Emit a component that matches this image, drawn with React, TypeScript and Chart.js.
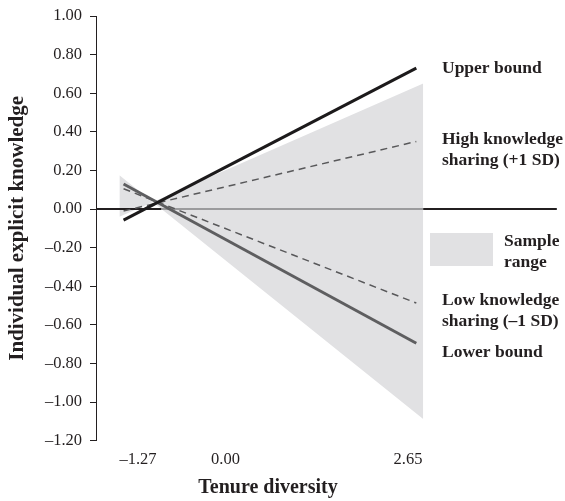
import React, { useEffect, useRef } from "react";
import { Chart, registerables } from "chart.js";

Chart.register(...registerables);

// ---- data ----
const xTickValues = [-1.27, 0.0, 2.65];
const yMin = -1.2;
const yMax = 1.0;
const yStep = 0.2;

const lineX = [-1.48, 2.77];
const upperBound = [-0.057, 0.73];
const highSharing = [-0.01, 0.35];
const lowSharing = [0.105, -0.487];
const lowerBound = [0.13, -0.695];

const sampleX = [-1.54, 2.87];
const sampleEdgeA = [0.175, -1.087];
const sampleEdgeB = [-0.04, 0.65];

const labelUpper = ["Upper bound"];
const labelHigh = ["High knowledge", "sharing (+1 SD)"];
const labelSample = ["Sample", "range"];
const labelLow = ["Low knowledge", "sharing (\u20131 SD)"];
const labelLower = ["Lower bound"];

// ---- styling / layout ----
const INK = "#231f20";
const SHADE = "#e1e1e3";
const SERIF = '"Liberation Serif", "Times New Roman", Times, serif';
const X_MIN = -1.88;
const X_MAX = 3.114;
const ZERO_END = 4.81;
const CANVAS_W = 565;
const CANVAS_H = 501;

const toPts = (xs: number[], ys: number[]) => xs.map((x, i) => ({ x, y: ys[i] }));
const fmt = (v: number) => {
  const n = Math.abs(v) < 1e-9 ? 0 : v;
  return n.toFixed(2).replace("-", "\u2013");
};

const zeroCross =
  sampleX[0] + ((sampleX[1] - sampleX[0]) * sampleEdgeA[0]) / (sampleEdgeA[0] - sampleEdgeA[1]);

const annotations = {
  id: "annotations",
  afterDraw(chart: any) {
    const ctx = chart.ctx as CanvasRenderingContext2D;
    const right = chart.chartArea.right;
    ctx.save();
    ctx.fillStyle = SHADE;
    ctx.fillRect(right - 10, 233, 63, 33);
    ctx.font = `bold 17.5px ${SERIF}`;
    ctx.fillStyle = INK;
    ctx.textAlign = "left";
    ctx.textBaseline = "middle";
    const put = (lines: string[], x: number, y: number) =>
      lines.forEach((t, i) => ctx.fillText(t, x, y + i * 21));
    put(labelUpper, right + 2, 68);
    put(labelHigh, right + 2, 139.5);
    put(labelSample, right + 64, 241);
    put(labelLow, right + 2, 300);
    put(labelLower, right + 2, 352);
    ctx.restore();
  },
};

export default function App() {
  const ref = useRef<HTMLCanvasElement | null>(null);

  useEffect(() => {
    if (!ref.current) return;
    const prevMargin = document.body.style.margin;
    document.body.style.margin = "0";
    const chart = new Chart(ref.current, {
      type: "line",
      data: {
        datasets: [
          {
            label: "Upper bound",
            data: toPts(lineX, upperBound),
            borderColor: "#1c1a1b",
            borderWidth: 3,
            pointRadius: 0,
            fill: false,
            order: 1,
          },
          {
            label: "Lower bound",
            data: toPts(lineX, lowerBound),
            borderColor: "#5e5e60",
            borderWidth: 3,
            pointRadius: 0,
            fill: false,
            order: 1,
          },
          {
            label: "High knowledge sharing (+1 SD)",
            data: toPts(lineX, highSharing),
            borderColor: "#58585a",
            borderWidth: 1.5,
            borderDash: [7, 5],
            pointRadius: 0,
            fill: false,
            order: 1,
          },
          {
            label: "Low knowledge sharing (\u20131 SD)",
            data: toPts(lineX, lowSharing),
            borderColor: "#58585a",
            borderWidth: 1.5,
            borderDash: [7, 5],
            pointRadius: 0,
            fill: false,
            order: 1,
          },
          {
            label: "zero",
            data: [
              { x: X_MIN, y: 0 },
              { x: zeroCross, y: 0 },
              { x: sampleX[1], y: 0 },
              { x: ZERO_END, y: 0 },
            ],
            borderColor: INK,
            borderWidth: 2,
            pointRadius: 0,
            fill: false,
            clip: false as any,
            segment: {
              borderColor: (c: any) => (c.p0DataIndex === 1 ? "#9b9b9d" : INK),
            },
            order: 2,
          },
          {
            label: "Sample range A",
            data: toPts(sampleX, sampleEdgeA),
            borderWidth: 0,
            borderColor: "rgba(0,0,0,0)",
            backgroundColor: SHADE,
            pointRadius: 0,
            fill: "+1",
            order: 3,
          },
          {
            label: "Sample range B",
            data: toPts(sampleX, sampleEdgeB),
            borderWidth: 0,
            borderColor: "rgba(0,0,0,0)",
            backgroundColor: SHADE,
            pointRadius: 0,
            fill: false,
            order: 3,
          },
        ],
      },
      options: {
        responsive: false,
        animation: false,
        layout: { padding: { top: 16, right: 125, left: 0, bottom: 0 } },
        plugins: {
          legend: { display: false },
          tooltip: { enabled: false },
        },
        scales: {
          x: {
            type: "linear",
            min: X_MIN,
            max: X_MAX,
            afterBuildTicks: (s: any) => {
              s.ticks = xTickValues.map((v) => ({ value: v }));
            },
            afterFit: (s: any) => {
              s.height = CANVAS_H - 440.7;
              s.paddingLeft = 0;
              s.paddingRight = 0;
            },
            grid: { display: false, drawTicks: false },
            border: { display: false },
            ticks: {
              color: INK,
              padding: 11,
              maxRotation: 0,
              autoSkip: false,
              font: { family: SERIF, size: 16.5, lineHeight: 1 },
              callback: (v: any) => fmt(Number(v)),
            },
            title: {
              display: true,
              text: "Tenure diversity",
              color: INK,
              font: { family: SERIF, size: 20, weight: "bold", lineHeight: 1 },
              padding: { top: 0, bottom: 3 },
            },
          },
          y: {
            type: "linear",
            min: yMin,
            max: yMax,
            afterFit: (s: any) => {
              s.width = 96;
              s.paddingTop = 0;
              s.paddingBottom = 0;
            },
            ticks: {
              stepSize: yStep,
              color: INK,
              padding: 8,
              font: { family: SERIF, size: 16.5, lineHeight: 1 },
              callback: (v: any) => fmt(Number(v)),
            },
            grid: {
              drawOnChartArea: false,
              drawTicks: true,
              tickLength: 6,
              tickColor: INK,
              tickWidth: 1,
            },
            border: { display: true, color: INK, width: 1 },
            title: {
              display: true,
              text: "Individual explicit knowledge",
              color: INK,
              font: { family: SERIF, size: 21, weight: "bold", lineHeight: 1 },
              padding: { top: 7.5, bottom: 0 },
            },
          },
        },
      },
      plugins: [annotations],
    } as any);
    return () => {
      chart.destroy();
      document.body.style.margin = prevMargin;
    };
  }, []);

  return (
    <canvas ref={ref} width={CANVAS_W} height={CANVAS_H} style={{ display: "block" }} />
  );
}
